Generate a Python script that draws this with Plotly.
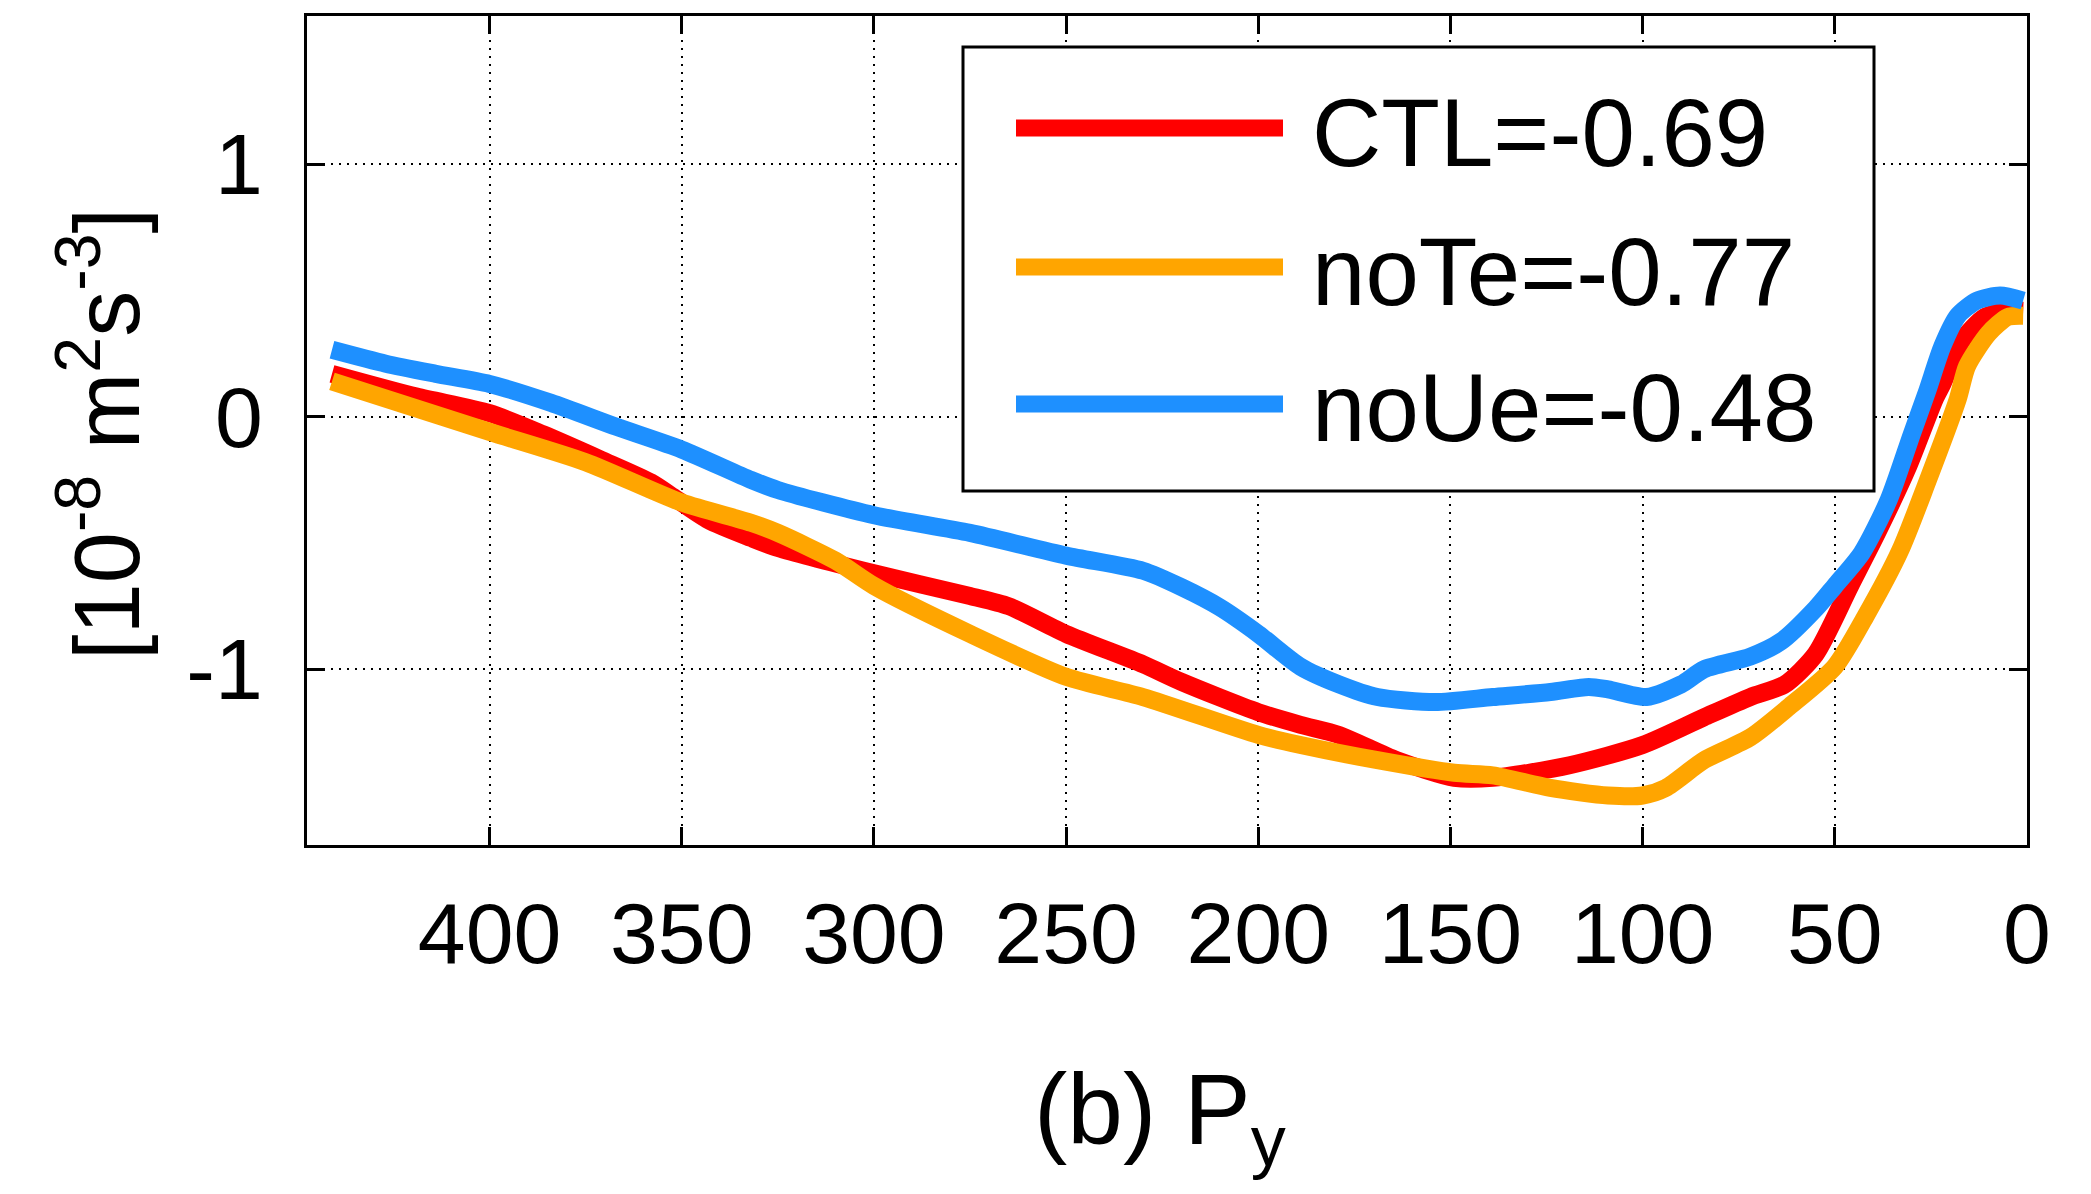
import plotly.graph_objects as go

# ---------------- data ----------------
series_names = ["CTL", "noTe", "noUe"]
series_scores = ["-0.69", "-0.77", "-0.48"]
series_colors = ["#FF0000", "#FFA500", "#1E90FF"]

ctl_x = [441, 419, 400, 386, 371, 358, 352, 343, 332, 325, 300, 275, 265, 250, 230, 220,
         200, 189, 179, 164, 149, 139, 119, 100, 84, 72, 63, 55, 46, 39, 31, 24, 22, 17, 11, 5, 1]
ctl_y = [0.17, 0.08, 0.014, -0.07, -0.17, -0.26, -0.32, -0.41, -0.48, -0.52, -0.62, -0.71,
         -0.75, -0.86, -0.98, -1.05, -1.17, -1.22, -1.26, -1.36, -1.43, -1.43, -1.38, -1.30,
         -1.19, -1.11, -1.06, -0.94, -0.67, -0.46, -0.20, 0.07, 0.13, 0.30, 0.395, 0.42, 0.42]

note_x = [441, 400, 375, 350, 332, 325, 310, 300, 275, 250, 230, 200, 189, 169, 149, 139,
          124, 109, 100, 94, 84, 72, 62, 50, 42, 33, 26, 18, 15.6, 10, 5, 1]
note_y = [0.14, -0.06, -0.18, -0.34, -0.42, -0.46, -0.57, -0.67, -0.86, -1.03, -1.11, -1.26,
          -1.30, -1.36, -1.41, -1.42, -1.47, -1.50, -1.50, -1.47, -1.36, -1.27, -1.15, -0.99,
          -0.79, -0.53, -0.26, 0.07, 0.20, 0.33, 0.395, 0.40]

noue_x = [441, 427, 414, 400, 384, 367, 350, 332, 325, 300, 275, 250, 230, 220, 210, 200,
          189, 179, 169, 154, 139, 124, 114, 109, 99, 90, 84, 72, 64, 55, 50, 43, 36, 30,
          26, 22, 18, 13, 7, 1]
noue_y = [0.265, 0.21, 0.17, 0.13, 0.055, -0.04, -0.13, -0.25, -0.29, -0.39, -0.46, -0.55,
          -0.61, -0.675, -0.755, -0.86, -0.99, -1.06, -1.11, -1.13, -1.11, -1.09, -1.07,
          -1.08, -1.11, -1.06, -1.00, -0.95, -0.89, -0.76, -0.67, -0.54, -0.33, -0.07,
          0.10, 0.28, 0.40, 0.46, 0.48, 0.46]

x_tick_vals = [400, 350, 300, 250, 200, 150, 100, 50, 0]
x_tick_text = ["400", "350", "300", "250", "200", "150", "100", "50", "0"]
y_tick_vals = [-1, 0, 1]
y_tick_text = ["-1", "0", "1"]

x_title = "(b) P<sub>y</sub>"
y_title = "[10<sup>-8</sup> m<sup>2</sup>s<sup>-3</sup>]"

# ---------------- figure ----------------
FONT = "Liberation Sans, Arial, Helvetica, sans-serif"
W, H = 2091, 1194
ML, MR, MT, MB = 307, 64, 16, 349

fig = go.Figure()
for name, xs, ys, col in zip(series_names, [ctl_x, note_x, noue_x],
                             [ctl_y, note_y, noue_y], series_colors):
    fig.add_trace(go.Scatter(x=xs, y=ys, mode="lines", name=name,
                             line=dict(color=col, width=18, shape="spline", smoothing=0.7),
                             showlegend=False))

axis_common = dict(
    showline=True, linecolor="black", linewidth=3, mirror="ticks",
    ticks="inside", ticklen=18, tickwidth=3, tickcolor="black",
    showgrid=True, gridcolor="black", gridwidth=2, griddash="2px,6px",
    zeroline=False, tickfont=dict(family=FONT, size=86, color="black"),
)

fig.update_xaxes(range=[447.5, 0], tickmode="array", tickvals=x_tick_vals,
                 ticktext=x_tick_text, ticklabelstandoff=12, **axis_common)
fig.update_yaxes(range=[-1.696, 1.587], tickmode="array", tickvals=y_tick_vals,
                 ticktext=y_tick_text, ticklabelstandoff=24, **axis_common)

# ---------------- manual legend ----------------
plot_w = W - ML - MR
plot_h = H - MT - MB

def px_x(px):
    return (px - ML) / plot_w

def px_y(py):
    return (H - MB - py) / plot_h

shapes = [dict(type="rect", xref="paper", yref="paper",
               x0=px_x(963), x1=px_x(1874), y0=px_y(491), y1=px_y(47),
               line=dict(color="black", width=3), fillcolor="white", layer="above")]
annotations = []
row_y = [128, 267, 404]
for name, score, col, ry in zip(series_names, series_scores, series_colors, row_y):
    shapes.append(dict(type="line", xref="paper", yref="paper",
                       x0=px_x(1016), x1=px_x(1283), y0=px_y(ry), y1=px_y(ry),
                       line=dict(color=col, width=17), layer="above"))
    annotations.append(dict(xref="paper", yref="paper", x=px_x(1310), y=px_y(ry + 4),
                            xanchor="left", yanchor="middle", showarrow=False,
                            text=f"{name}={score}",
                            font=dict(family=FONT, size=96, color="black")))

annotations.append(dict(xref="paper", yref="paper", x=px_x(1160), y=px_y(1116),
                        xanchor="center", yanchor="middle", showarrow=False,
                        text=x_title, font=dict(family=FONT, size=100, color="black")))
annotations.append(dict(xref="paper", yref="paper", x=px_x(100), y=px_y(434),
                        xanchor="center", yanchor="middle", showarrow=False,
                        textangle=-90, text=y_title,
                        font=dict(family=FONT, size=92, color="black")))

fig.update_layout(
    width=W, height=H, autosize=False,
    margin=dict(l=ML, r=MR, t=MT, b=MB, autoexpand=False),
    paper_bgcolor="white", plot_bgcolor="white",
    shapes=shapes, annotations=annotations, showlegend=False,
)

fig.write_html("out.html")
